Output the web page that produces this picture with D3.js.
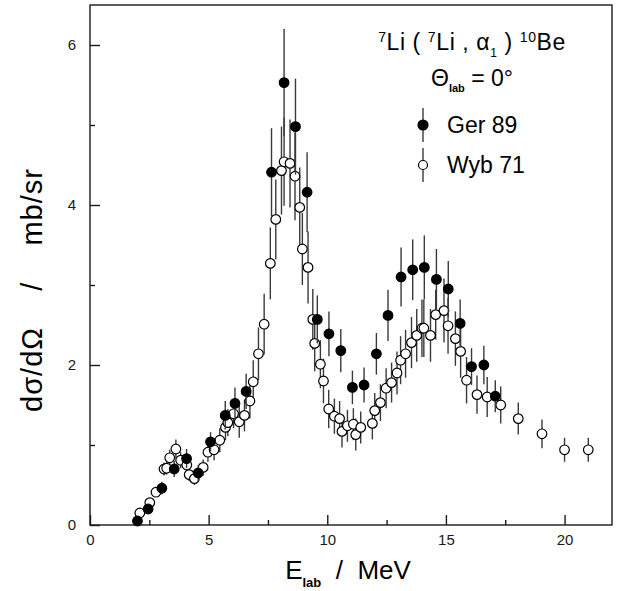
<!DOCTYPE html>
<html><head><meta charset="utf-8">
<script src="https://cdn.jsdelivr.net/npm/d3@7"></script>
<style>
html,body{margin:0;padding:0;background:#fff;}
svg{display:block;font-family:"Liberation Sans",Arial,Helvetica,sans-serif;}
</style></head><body>
<svg id="chart" width="619" height="591"></svg>
<script>
// ---- Data ----
// Ger 89 (filled circles): energy (MeV), cross section (mb/sr), error
const gerE   = [2.0, 2.45, 3.03, 3.55, 4.07, 4.56, 5.08, 5.70, 6.11, 6.58, 7.65, 8.18, 8.66, 9.15, 9.58, 10.07, 10.57, 11.06, 11.55, 12.07, 12.56, 13.11, 13.60, 14.09, 14.60, 15.10, 15.60, 16.08, 16.60, 17.08];
const gerV   = [0.05, 0.20, 0.46, 0.70, 0.83, 0.65, 1.04, 1.37, 1.52, 1.67, 4.41, 5.53, 4.98, 4.16, 2.57, 2.39, 2.18, 1.72, 1.75, 2.14, 2.62, 3.10, 3.19, 3.22, 3.07, 2.95, 2.52, 1.98, 2.00, 1.61];
const gerErr = [0.0, 0.05, 0.08, 0.10, 0.12, 0.10, 0.12, 0.18, 0.20, 0.22, 0.55, 0.67, 0.60, 0.50, 0.30, 0.28, 0.27, 0.21, 0.22, 0.26, 0.32, 0.37, 0.38, 0.40, 0.38, 0.35, 0.30, 0.23, 0.24, 0.20];

// Wyb 71 (open circles)
const wybE   = [2.10, 2.52, 2.78, 3.12, 3.23, 3.36, 3.62, 3.82, 4.08, 4.18, 4.40, 4.77, 4.97, 5.23, 5.47, 5.71, 5.81, 6.05, 6.29, 6.51, 6.74, 6.88, 7.10, 7.34, 7.60, 7.83, 8.07, 8.18, 8.43, 8.64, 8.84, 8.95, 9.19, 9.39, 9.47, 9.71, 9.84, 10.06, 10.30, 10.52, 10.62, 10.85, 11.10, 11.20, 11.41, 11.90, 12.00, 12.24, 12.48, 12.71, 12.94, 13.09, 13.30, 13.55, 13.77, 13.99, 14.07, 14.35, 14.57, 14.92, 15.09, 15.40, 15.62, 15.87, 16.31, 16.74, 17.31, 18.05, 19.05, 20.00, 21.00];
const wybV   = [0.15, 0.28, 0.41, 0.70, 0.71, 0.84, 0.95, 0.81, 0.75, 0.63, 0.58, 0.72, 0.91, 0.94, 1.06, 1.22, 1.28, 1.39, 1.29, 1.37, 1.55, 1.79, 2.14, 2.51, 3.27, 3.82, 4.43, 4.54, 4.52, 4.36, 3.97, 3.45, 3.22, 2.57, 2.27, 2.01, 1.80, 1.45, 1.36, 1.33, 1.17, 1.24, 1.26, 1.13, 1.22, 1.27, 1.43, 1.53, 1.71, 1.78, 1.90, 2.06, 2.14, 2.28, 2.37, 2.46, 2.46, 2.37, 2.63, 2.68, 2.49, 2.33, 2.17, 1.81, 1.63, 1.60, 1.50, 1.33, 1.14, 0.94, 0.94];
const wybErr = [0.03, 0.04, 0.05, 0.08, 0.08, 0.10, 0.12, 0.10, 0.10, 0.08, 0.08, 0.10, 0.12, 0.13, 0.15, 0.16, 0.17, 0.18, 0.20, 0.20, 0.22, 0.27, 0.33, 0.38, 0.45, 0.50, 0.55, 0.55, 0.55, 0.55, 0.50, 0.45, 0.45, 0.38, 0.35, 0.30, 0.28, 0.24, 0.22, 0.22, 0.20, 0.20, 0.20, 0.20, 0.20, 0.20, 0.22, 0.23, 0.25, 0.25, 0.27, 0.30, 0.30, 0.32, 0.33, 0.36, 0.36, 0.33, 0.31, 0.40, 0.35, 0.34, 0.33, 0.29, 0.24, 0.25, 0.23, 0.20, 0.18, 0.15, 0.15];

const xMajorTicks = [0, 5, 10, 15, 20];
const xMinorTicks = [2.5, 7.5, 12.5, 17.5];
const yMajorTicks = [0, 2, 4, 6];
const yMinorTicks = [1, 3, 5];
const seriesNames = ["Ger 89", "Wyb 71"];

// ---- Layout ----
const svg = d3.select("#chart");
const L = 90, R = 612, T = 5, B = 525;
const x = d3.scaleLinear().domain([0, 22]).range([L, R]);
const y = d3.scaleLinear().domain([0, 6.5]).range([B, T]);
const ink = "#1a1a1a";

// frame
svg.append("rect").attr("x", L).attr("y", T).attr("width", R - L).attr("height", B - T)
  .attr("fill", "none").attr("stroke", ink).attr("stroke-width", 1.4);

function styleAxis(g) {
  g.select(".domain").remove();
  g.selectAll(".tick line").attr("stroke", ink).attr("stroke-width", 1.4);
  g.selectAll(".tick text").attr("fill", ink).style("font-size", "15px");
}
svg.append("g").attr("transform", `translate(0,${B})`)
  .call(d3.axisBottom(x).tickValues(xMajorTicks).tickSize(-10).tickPadding(9).tickFormat(d3.format("d")))
  .call(styleAxis);
svg.append("g").attr("transform", `translate(0,${B})`)
  .call(d3.axisBottom(x).tickValues(xMinorTicks).tickSize(-5).tickFormat(""))
  .call(styleAxis);
svg.append("g").attr("transform", `translate(${L},0)`)
  .call(d3.axisLeft(y).tickValues(yMajorTicks).tickSize(-10).tickPadding(14).tickFormat(d3.format("d")))
  .call(styleAxis);
svg.append("g").attr("transform", `translate(${L},0)`)
  .call(d3.axisLeft(y).tickValues(yMinorTicks).tickSize(-5).tickFormat(""))
  .call(styleAxis);

// ---- Data marks ----
const ger = gerE.map((e, i) => ({e, v: gerV[i], err: gerErr[i]}));
const wyb = wybE.map((e, i) => ({e, v: wybV[i], err: wybErr[i]}));
const r = 4.8;

function drawSeries(data, filled) {
  const g = svg.append("g");
  g.selectAll("line").data(data.filter(d => d.err > 0)).join("line")
    .attr("x1", d => x(d.e)).attr("x2", d => x(d.e))
    .attr("y1", d => y(d.v - d.err)).attr("y2", d => y(d.v + d.err))
    .attr("stroke", "#3a3a3a").attr("stroke-width", 1.4);
  g.selectAll("circle").data(data).join("circle")
    .attr("cx", d => x(d.e)).attr("cy", d => y(d.v)).attr("r", r)
    .attr("fill", filled ? "#000" : "#fff").attr("stroke", "#000").attr("stroke-width", 1.2);
}
drawSeries(wyb, false);
drawSeries(ger, true);

// ---- Annotation / legend ----
const ann = svg.append("g").attr("fill", "#000");
const t1 = ann.append("text").attr("x", 472).attr("y", 50).attr("text-anchor", "middle")
  .style("font-size", "23px").style("letter-spacing", "0.6px").style("white-space", "pre");
t1.append("tspan").attr("baseline-shift", "super").style("font-size", "14px").text("7");
t1.append("tspan").text("Li ( ");
t1.append("tspan").attr("baseline-shift", "super").style("font-size", "14px").text("7");
t1.append("tspan").text("Li , α");
t1.append("tspan").attr("baseline-shift", "sub").style("font-size", "12px").text("1");
t1.append("tspan").text(" ) ");
t1.append("tspan").attr("baseline-shift", "super").style("font-size", "14px").text("10");
t1.append("tspan").text("Be");

const t2 = ann.append("text").attr("x", 472).attr("y", 86).attr("text-anchor", "middle")
  .style("font-size", "23px").style("white-space", "pre");
t2.append("tspan").text("Θ");
t2.append("tspan").attr("baseline-shift", "sub").style("font-size", "11px").style("font-weight", "bold").text("lab");
t2.append("tspan").text(" = 0°");

const legY = [125, 165];
seriesNames.forEach((name, i) => {
  const cy = legY[i];
  ann.append("line").attr("x1", 423).attr("x2", 423).attr("y1", cy - 17).attr("y2", cy + 17)
    .attr("stroke", "#3a3a3a").attr("stroke-width", 1.4);
  ann.append("circle").attr("cx", 423).attr("cy", cy).attr("r", i === 0 ? 5 : 4.5)
    .attr("fill", i === 0 ? "#000" : "#fff").attr("stroke", "#000").attr("stroke-width", 1.2);
  ann.append("text").attr("x", 447).attr("y", cy + 8).style("font-size", "23px").text(name);
});

// ---- Axis titles ----
const xt = svg.append("text").attr("x", 348).attr("y", 579).attr("text-anchor", "middle")
  .style("font-size", "26px").style("white-space", "pre").attr("fill", "#000");
xt.append("tspan").text("E");
xt.append("tspan").attr("baseline-shift", "sub").style("font-size", "13px").style("font-weight", "bold").text("lab");
xt.append("tspan").text("  /  MeV");

svg.append("text").attr("transform", "translate(42,290) rotate(-90)").attr("text-anchor", "middle")
  .style("font-size", "29px").style("letter-spacing", "1px").style("white-space", "pre").attr("fill", "#000")
  .text("dσ/dΩ    /    mb/sr");
</script>
</body></html>
